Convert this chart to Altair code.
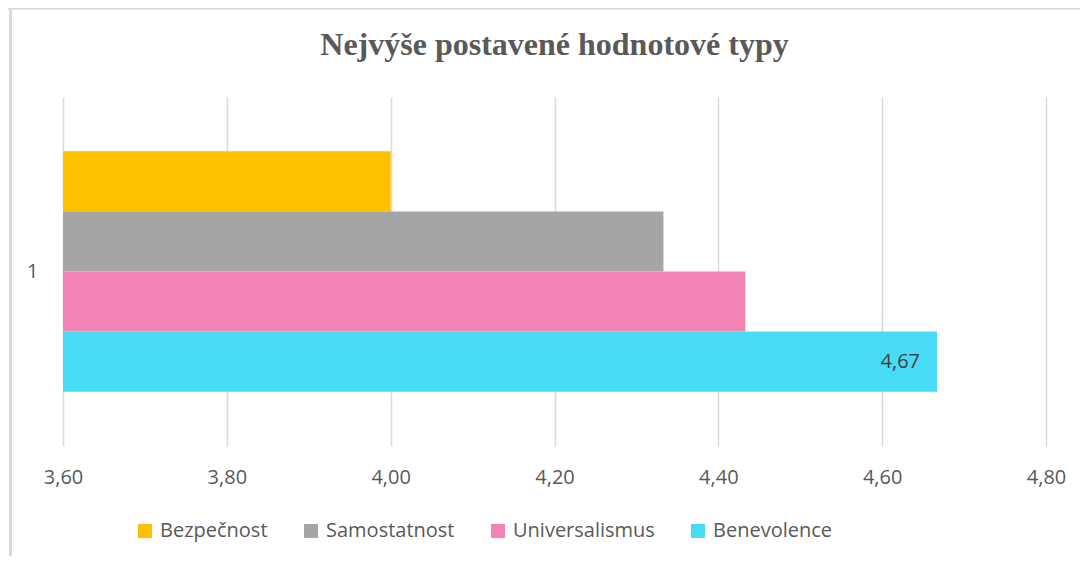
import altair as alt
import pandas as pd

# ---- data ----
category = ["1", "1", "1", "1"]
series = ["Bezpečnost", "Samostatnost", "Universalismus", "Benevolence"]
values = [4.00, 4.333, 4.433, 4.667]
colors = ["#FFC000", "#A5A5A5", "#F383B4", "#48DBF6"]
x_ticks = [3.6, 3.8, 4.0, 4.2, 4.4, 4.6, 4.8]
x_min, x_max = 3.6, 4.8
labelled_series = ["Benevolence"]

df = pd.DataFrame({"cat": category, "series": series, "value": values})

TEXT = "#595959"
GRID = "#d9d9d9"
FONT = "Open Sans"

base = alt.Chart(df)

y_enc = alt.Y(
    "cat:N",
    title=None,
    scale=alt.Scale(paddingInner=0, paddingOuter=0.2256),
    axis=alt.Axis(
        ticks=False, domain=False, grid=False, labelPadding=25,
        labelFontSize=20, labelColor=TEXT, labelFont=FONT,
    ),
)
yoff_enc = alt.YOffset(
    "series:N", sort=series,
    scale=alt.Scale(paddingInner=0, paddingOuter=0),
)
x_enc = alt.X(
    "value:Q",
    title=None,
    scale=alt.Scale(domain=[x_min, x_max], zero=False, nice=False),
    axis=alt.Axis(
        values=x_ticks,
        labelExpr="replace(format(datum.value, '.2f'), '.', ',')",
        ticks=False, tickSize=0, domain=False,
        grid=True, gridColor=GRID, gridWidth=1.5,
        labelFlush=False, labelPadding=21,
        labelFontSize=20, labelColor=TEXT, labelFont=FONT,
    ),
)

bars = base.mark_bar(cornerRadius=0).encode(
    y=y_enc,
    yOffset=yoff_enc,
    x=x_enc,
    x2=alt.X2(datum=x_min),
    color=alt.Color(
        "series:N",
        sort=series,
        scale=alt.Scale(domain=series, range=colors),
        legend=alt.Legend(
            title=None, orient="none", direction="horizontal",
            legendX=72, legendY=424,
            symbolType="square", symbolSize=196, symbolStrokeWidth=0,
            symbolOpacity=1,
            labelFontSize=20, labelColor=TEXT, labelFont=FONT,
            labelOffset=5, columnPadding=33,
        ),
    ),
)

labels = base.transform_filter(
    alt.FieldOneOfPredicate(field="series", oneOf=labelled_series)
).transform_calculate(
    label="replace(format(datum.value, '.2f'), '.', ',')"
).mark_text(
    align="right", baseline="middle", dx=-17, fontSize=20,
    font=FONT, color="#404040",
).encode(
    y=alt.Y("cat:N"),
    yOffset=alt.YOffset("series:N", sort=series),
    x=alt.X("value:Q"),
    text="label:N",
)

# faint frame lines (top and left edge of the chart area)
frame_top = base.mark_rule(color=GRID, strokeWidth=1.5).encode(
    x=alt.value(-55), x2=alt.value(1017), y=alt.value(-88.5)
)
frame_left = base.mark_rule(color=GRID, strokeWidth=2.5).encode(
    x=alt.value(-52.5), y=alt.value(-89), y2=alt.value(459)
)

chart = alt.layer(frame_top, frame_left, bars, labels).properties(
    width=983,
    height=349,
    background="white",
    title=alt.TitleParams(
        "Nejvýše postavené hodnotové typy",
        anchor="middle", frame="group",
        font="Liberation Serif", fontSize=32, fontWeight="bold",
        color=TEXT, offset=-80, baseline="alphabetic",
    ),
    autosize=alt.AutoSizeParams(type="none"),
    padding={"left": 55, "top": 89, "right": 34, "bottom": 110},
).configure_view(stroke="transparent", strokeWidth=0)

chart.save("out.html", embed_options={"renderer": "svg", "actions": False})
